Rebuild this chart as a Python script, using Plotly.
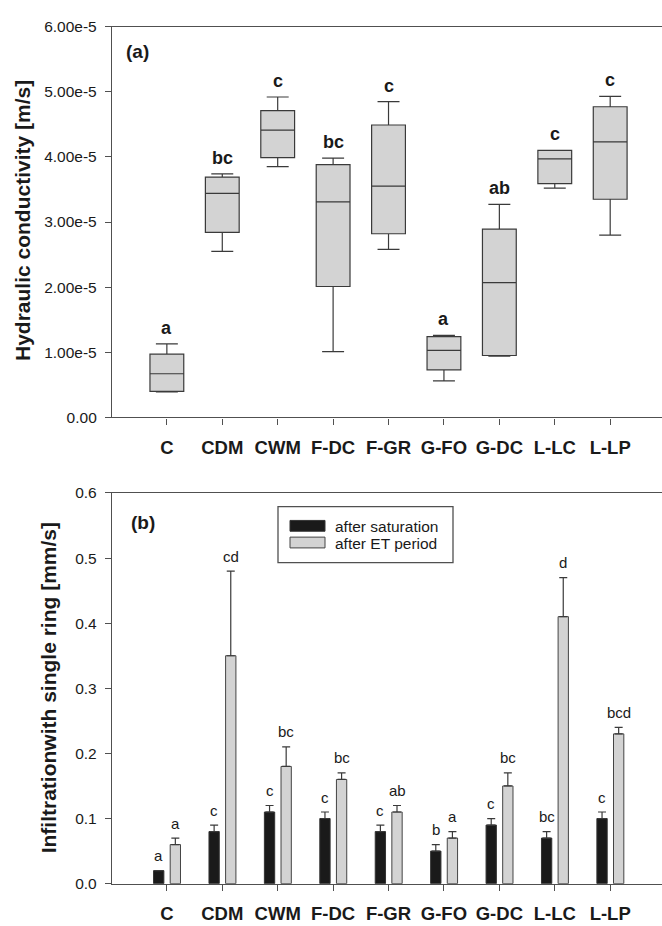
import plotly.graph_objects as go

# ---- data ----
sites = ["C", "CDM", "CWM", "F-DC", "F-GR", "G-FO", "G-DC", "L-LC", "L-LP"]

# (a) hydraulic conductivity box statistics [m/s]
k_low = [0.39e-5, 2.55e-5, 3.85e-5, 1.01e-5, 2.58e-5, 0.56e-5, 0.94e-5, 3.52e-5, 2.80e-5]
k_q1 = [0.40e-5, 2.84e-5, 3.99e-5, 2.01e-5, 2.82e-5, 0.73e-5, 0.95e-5, 3.59e-5, 3.35e-5]
k_med = [0.67e-5, 3.44e-5, 4.41e-5, 3.31e-5, 3.55e-5, 1.03e-5, 2.07e-5, 3.97e-5, 4.23e-5]
k_q3 = [0.97e-5, 3.69e-5, 4.71e-5, 3.88e-5, 4.49e-5, 1.24e-5, 2.89e-5, 4.10e-5, 4.77e-5]
k_high = [1.13e-5, 3.74e-5, 4.92e-5, 3.98e-5, 4.85e-5, 1.26e-5, 3.27e-5, 4.10e-5, 4.93e-5]
k_letters = ["a", "bc", "c", "bc", "c", "a", "ab", "c", "c"]
k_ticks = [0, 1e-5, 2e-5, 3e-5, 4e-5, 5e-5, 6e-5]
k_ticktext = ["0.00", "1.00e-5", "2.00e-5", "3.00e-5", "4.00e-5", "5.00e-5", "6.00e-5"]

# (b) single-ring infiltration [mm/s]
inf_sat = [0.02, 0.08, 0.11, 0.10, 0.08, 0.05, 0.09, 0.07, 0.10]
inf_sat_err = [0.0, 0.01, 0.01, 0.01, 0.01, 0.01, 0.01, 0.01, 0.01]
inf_et = [0.06, 0.35, 0.18, 0.16, 0.11, 0.07, 0.15, 0.41, 0.23]
inf_et_err = [0.01, 0.13, 0.03, 0.01, 0.01, 0.01, 0.02, 0.06, 0.01]
sat_letters = ["a", "c", "c", "c", "c", "b", "c", "bc", "c"]
et_letters = ["a", "cd", "bc", "bc", "ab", "a", "bc", "d", "bcd"]
inf_ticks = [0.0, 0.1, 0.2, 0.3, 0.4, 0.5, 0.6]

# ---- style ----
W, H = 662, 926
FONT = "Liberation Sans, Arial, sans-serif"
AXIS = "#505050"
TXT = "#1a1a1a"
BLACK = "#1a1a1a"
GREY = "#d3d3d3"
BAR_W = 0.186
SAT_OFF = -0.24
ET_OFF = 0.06


def px(x):
    return x / W


def py(y):
    return 1 - y / H


idx = list(range(len(sites)))

fig = go.Figure()

# (a) boxes from precomputed statistics
fig.add_trace(go.Box(
    x=idx, q1=k_q1, median=k_med, q3=k_q3,
    lowerfence=k_low, upperfence=k_high,
    width=0.61, whiskerwidth=0.65,
    fillcolor=GREY, line=dict(color="#3a3a3a", width=1.2),
    boxpoints=False, hoverinfo="skip",
    xaxis="x", yaxis="y", showlegend=False,
))

# (b) grouped bars with one-sided error bars
fig.add_trace(go.Bar(
    x=idx, y=inf_sat, width=BAR_W, offset=SAT_OFF,
    marker=dict(color=BLACK, line=dict(color="#333333", width=1)),
    error_y=dict(type="data", symmetric=False, array=inf_sat_err,
                 arrayminus=[0] * len(sites), color="#3a3a3a",
                 thickness=1.2, width=4),
    name="after saturation", xaxis="x2", yaxis="y2", showlegend=False,
))
fig.add_trace(go.Bar(
    x=idx, y=inf_et, width=BAR_W, offset=ET_OFF,
    marker=dict(color=GREY, line=dict(color="#444444", width=1)),
    error_y=dict(type="data", symmetric=False, array=inf_et_err,
                 arrayminus=[0] * len(sites), color="#3a3a3a",
                 thickness=1.2, width=4),
    name="after ET period", xaxis="x2", yaxis="y2", showlegend=False,
))

annotations = []

# significance letters above the whiskers
for i, (top, lab) in enumerate(zip(k_high, k_letters)):
    annotations.append(dict(
        x=i, y=top, xref="x", yref="y", text=lab, showarrow=False,
        yanchor="middle", yshift=16,
        font=dict(family=FONT, size=18, color=TXT, weight="bold"),
    ))

# significance letters above the error bars
for i in idx:
    for val, err, lab, off in ((inf_sat[i], inf_sat_err[i], sat_letters[i], SAT_OFF),
                               (inf_et[i], inf_et_err[i], et_letters[i], ET_OFF)):
        annotations.append(dict(
            x=i + off + BAR_W / 2, y=val + err, xref="x2", yref="y2",
            text=lab, showarrow=False, yanchor="middle", yshift=15,
            font=dict(family=FONT, size=15, color=TXT),
        ))

# panel labels
annotations.append(dict(x=px(124), y=py(43), xref="paper", yref="paper",
                        text="(a)", showarrow=False, xanchor="left", yanchor="middle",
                        font=dict(family=FONT, size=19, color=TXT, weight="bold")))
annotations.append(dict(x=px(129), y=py(523), xref="paper", yref="paper",
                        text="(b)", showarrow=False, xanchor="left", yanchor="middle",
                        font=dict(family=FONT, size=19, color=TXT, weight="bold")))

# axis titles
annotations.append(dict(x=px(22), y=py(216), xref="paper", yref="paper",
                        text="Hydraulic conductivity [m/s]", showarrow=False,
                        textangle=-90, xanchor="center", yanchor="middle",
                        font=dict(family=FONT, size=21, color=TXT, weight="bold")))
annotations.append(dict(x=px(48), y=py(692), xref="paper", yref="paper",
                        text="Infiltrationwith single ring [mm/s]", showarrow=False,
                        textangle=-90, xanchor="center", yanchor="middle",
                        font=dict(family=FONT, size=21, color=TXT, weight="bold")))

# legend for panel (b)
annotations.append(dict(x=px(333), y=py(527), xref="paper", yref="paper",
                        text="after saturation", showarrow=False,
                        xanchor="left", yanchor="middle",
                        font=dict(family=FONT, size=15.5, color=TXT)))
annotations.append(dict(x=px(333), y=py(544), xref="paper", yref="paper",
                        text="after ET period", showarrow=False,
                        xanchor="left", yanchor="middle",
                        font=dict(family=FONT, size=15.5, color=TXT)))

shapes = [
    dict(type="rect", xref="paper", yref="paper",
         x0=px(278), x1=px(453), y0=py(564), y1=py(507),
         line=dict(color=AXIS, width=1.3), fillcolor="white", layer="below"),
    dict(type="rect", xref="paper", yref="paper",
         x0=px(290), x1=px(325), y0=py(532), y1=py(521),
         line=dict(color="#333333", width=1), fillcolor=BLACK),
    dict(type="rect", xref="paper", yref="paper",
         x0=px(290), x1=px(325), y0=py(549), y1=py(538),
         line=dict(color="#444444", width=1), fillcolor=GREY),
]

x_common = dict(
    range=[-0.99, 8.935], tickmode="array", tickvals=idx, ticktext=sites,
    showline=True, linecolor=AXIS, linewidth=1.3, mirror=True,
    ticks="outside", ticklen=6, tickwidth=1.3, tickcolor=AXIS,
    ticklabelstandoff=7,
    showgrid=False, zeroline=False, fixedrange=True,
    tickfont=dict(family=FONT, size=18.5, color=TXT, weight="bold"),
)
y_common = dict(
    showline=True, linecolor=AXIS, linewidth=1.3, mirror=False,
    ticks="outside", ticklen=6, tickwidth=1.3, tickcolor=AXIS,
    ticklabelstandoff=5,
    showgrid=False, zeroline=False, fixedrange=True,
    tickfont=dict(family=FONT, size=15.5, color=TXT),
)

fig.update_layout(
    width=W, height=H,
    margin=dict(l=0, r=0, t=0, b=0),
    paper_bgcolor="white", plot_bgcolor="white",
    barmode="overlay",
    showlegend=False,
    font=dict(family=FONT, color=TXT),
    xaxis=dict(domain=[px(112), 1], anchor="y", **x_common),
    yaxis=dict(domain=[py(416), py(18)], anchor="x", range=[0, 6e-5],
               tickmode="array", tickvals=k_ticks, ticktext=k_ticktext, **y_common),
    xaxis2=dict(domain=[px(112), 1], anchor="y2", **x_common),
    yaxis2=dict(domain=[py(891), py(493)], anchor="x2", range=[0, 0.6],
                tickmode="array", tickvals=inf_ticks, tickformat=".1f", **y_common),
    annotations=annotations,
    shapes=shapes,
)

fig.write_html("out.html")
